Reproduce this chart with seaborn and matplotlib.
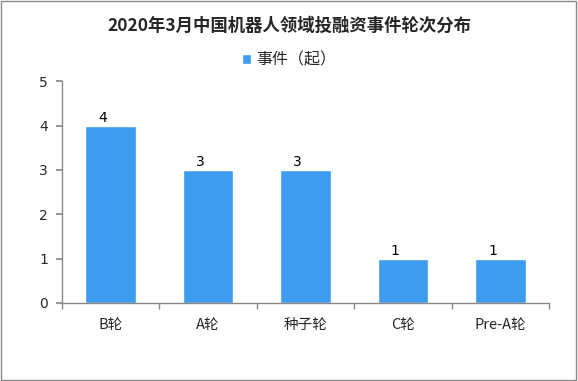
import matplotlib
matplotlib.use("Agg")
import matplotlib.pyplot as plt
import seaborn as sns
import pandas as pd
import numpy as np
from matplotlib.patches import Rectangle

categories = ["B轮", "A轮", "种子轮", "C轮", "Pre-A轮"]
values = [4, 3, 3, 1, 1]
series_name = "事件（起）"
title = "2020年3月中国机器人领域投融资事件轮次分布"
yticks = [0, 1, 2, 3, 4, 5]

sns.set_theme(style="white")
plt.rcParams['font.family'] = ['Noto Sans CJK SC', 'DejaVu Sans']

df = pd.DataFrame({"cat": categories, "val": values})

fig = plt.figure(figsize=(5.78, 3.81), dpi=100)
ax = fig.add_axes([0.107, 0.205, 0.843, 0.582])
color = "#3d9cf0"
sns.barplot(data=df, x="cat", y="val", color=color, width=0.52, ax=ax,
            saturation=1, label=series_name)

ax.set_ylim(0, 5)
ax.set_xlim(-0.5, len(categories) - 0.5)
ax.set_yticks(yticks)
ax.set_yticklabels([str(t) for t in yticks], fontsize=10, family='DejaVu Sans')
ax.set_xlabel("")
ax.set_ylabel("")
ax.tick_params(axis='x', which='major', length=0, labelsize=10.5, pad=11)
ax.set_xticks(np.arange(-0.5, len(categories)), minor=True)
ax.tick_params(axis='x', which='minor', length=4, color='#888888', direction='out', bottom=True)
ax.tick_params(axis='y', length=4, color='#888888', direction='out', left=True, pad=6)
for s in ['top', 'right']:
    ax.spines[s].set_visible(False)
for s in ['left', 'bottom']:
    ax.spines[s].set_color('#888888')
    ax.spines[s].set_linewidth(1)

for i, v in enumerate(values):
    ax.text(i - 0.08, v + 0.01, str(v), ha='center', va='bottom', fontsize=10,
            family='DejaVu Sans', color='black')

fig.text(0.5, 0.932, title, ha='center', va='center', fontsize=12.5, fontweight='bold')
leg = ax.legend(loc='center', frameon=False, fontsize=11.5, handlelength=0.6,
                handleheight=0.6, handletextpad=0.3)
leg.set_bbox_to_anchor((0.5, 0.843), transform=fig.transFigure)

fig.patches.append(Rectangle((0.002, 0.003), 0.995, 0.994, transform=fig.transFigure,
                             fill=False, edgecolor='#888888', linewidth=1))
fig.savefig("out.png", dpi=100)
